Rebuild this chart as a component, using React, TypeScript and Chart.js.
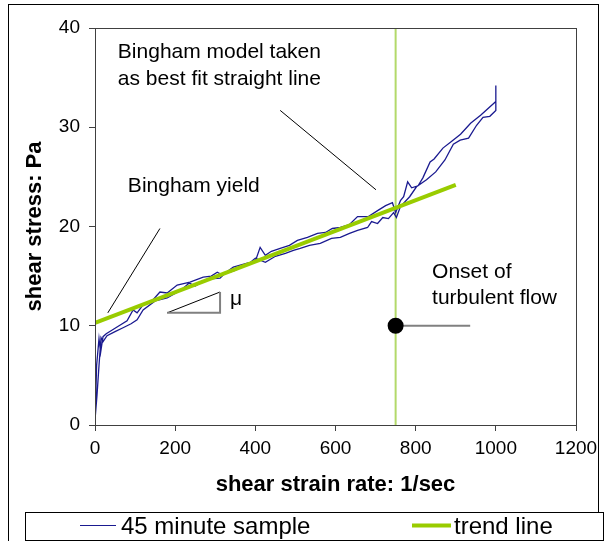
import React, { useEffect, useRef } from "react";
import { Chart, registerables } from "chart.js";

Chart.register(...registerables);

// ---- data ----
const xTickMin = 0;
const xTickMax = 1200;
const xTickStep = 200;
const yTickMin = 0;
const yTickMax = 40;
const yTickStep = 10;

// 45 minute sample: increasing-rate sweep
const rateUp = [0, 4, 10, 14, 20, 28, 40, 60, 80, 95, 105, 120, 140, 162, 180, 205, 237, 270, 290, 305, 318, 345, 380, 400, 412, 425, 440, 462, 485, 505, 530, 555, 575, 592, 612, 635, 655, 682, 705, 725, 742, 750, 762, 770, 780, 790, 806, 818, 836, 846, 868, 890, 912, 937, 962, 1000, 1000];
const stressUp = [0, 6.0, 8.7, 7.3, 8.9, 9.2, 9.5, 10.0, 10.5, 11.6, 11.3, 12.1, 12.4, 13.4, 13.3, 14.1, 14.4, 14.9, 15.0, 15.4, 15.1, 15.9, 16.3, 16.5, 17.9, 17.1, 17.5, 17.8, 18.1, 18.6, 18.9, 19.3, 19.4, 19.8, 19.9, 20.2, 21.0, 21.0, 21.6, 22.1, 22.4, 21.4, 22.6, 23.0, 24.5, 23.9, 24.1, 24.9, 26.5, 26.8, 27.9, 28.6, 29.3, 30.4, 31.2, 32.6, 34.2];

// 45 minute sample: decreasing-rate sweep
const rateDown = [1000, 985, 968, 952, 932, 911, 894, 873, 850, 827, 802, 785, 762, 752, 745, 732, 718, 705, 690, 680, 655, 635, 612, 590, 562, 535, 512, 495, 475, 450, 425, 400, 385, 370, 345, 325, 312, 280, 250, 235, 215, 180, 150, 120, 105, 90, 70, 50, 30, 20, 15, 10, 5, 0];
const stressDown = [31.7, 31.1, 31.0, 30.2, 28.9, 28.7, 28.3, 26.7, 25.5, 24.7, 24.0, 23.0, 22.0, 20.9, 21.4, 20.8, 20.9, 20.3, 20.5, 19.9, 19.6, 19.3, 18.9, 18.8, 18.3, 18.1, 17.8, 17.6, 17.3, 17.0, 16.4, 16.8, 16.3, 16.0, 15.5, 15.3, 14.8, 14.7, 14.0, 14.3, 13.6, 12.8, 12.5, 11.6, 10.6, 10.2, 9.8, 9.4, 9.0, 8.4, 8.8, 6.0, 3.0, 0.5];

// Bingham trend line (best fit straight line)
const trendRate = [0, 900];
const trendStress = [10.3, 24.2];

// onset of turbulent flow
const onsetRate = 750;
const onsetStress = 10;
const onsetLabelEnd = 936;

// annotation texts
const modelLabel = ["Bingham model taken", "as best fit straight line"];
const yieldLabel = "Bingham yield";
const onsetLabel = ["Onset of", "turbulent flow"];
const muLabel = "\u03bc";

const sampleLabel = "45 minute sample";
const trendLabel = "trend line";

// ---- styles ----
const NAVY = "#1a1a90";
const TREND = "#99cc00";
const VLINE = "#b3d96a";
const GRAY = "#808080";
const AXIS = "#404040";
const FONT = '"Liberation Sans", Arial, Helvetica, sans-serif';

const pts = (xs: number[], ys: number[]) => xs.map((x, i) => ({ x, y: ys[i] }));

const decor = {
  id: "decor",
  beforeDraw(chart: any) {
    const { ctx, width, height } = chart;
    ctx.save();
    ctx.fillStyle = "#ffffff";
    ctx.fillRect(0, 0, width, height);
    ctx.restore();
  },
  afterDraw(chart: any) {
    const { ctx, chartArea: a } = chart;
    const xs = chart.scales.x;
    const ys = chart.scales.y;
    const px = (v: number) => xs.getPixelForValue(v);
    const py = (v: number) => ys.getPixelForValue(v);
    ctx.save();
    // plot frame
    ctx.strokeStyle = AXIS;
    ctx.lineWidth = 1;
    ctx.strokeRect(Math.round(a.left) + 0.5, Math.round(a.top) + 0.5, Math.round(a.right - a.left), Math.round(a.bottom - a.top));
    // outer frame
    ctx.strokeStyle = "#000";
    ctx.strokeRect(8.5, 4.5, 590, 560);

    // annotation texts
    ctx.fillStyle = "#000";
    ctx.textBaseline = "middle";
    ctx.textAlign = "left";
    ctx.font = `21px ${FONT}`;
    ctx.fillText(modelLabel[0], px(57), py(37.6));
    ctx.fillText(modelLabel[1], px(57), py(34.8));
    ctx.fillText(yieldLabel, px(82), py(24.1));
    ctx.fillText(onsetLabel[0], px(841), py(15.4));
    ctx.fillText(onsetLabel[1], px(841), py(12.8));
    ctx.fillText(muLabel, px(337), py(12.7));

    // legend
    ctx.fillStyle = "#ffffff";
    ctx.fillRect(25.5, 512.5, 578, 28);
    ctx.strokeStyle = "#000";
    ctx.lineWidth = 1;
    ctx.strokeRect(25.5, 512.5, 578, 28);
    ctx.beginPath();
    ctx.strokeStyle = NAVY;
    ctx.lineWidth = 1.2;
    ctx.moveTo(80, 525.5);
    ctx.lineTo(116, 525.5);
    ctx.stroke();
    ctx.beginPath();
    ctx.strokeStyle = TREND;
    ctx.lineWidth = 4;
    ctx.moveTo(412, 525.5);
    ctx.lineTo(451, 525.5);
    ctx.stroke();
    ctx.fillStyle = "#000";
    ctx.font = `24px ${FONT}`;
    ctx.fillText(sampleLabel, 121, 527);
    ctx.fillText(trendLabel, 454, 527);
    ctx.restore();
  },
};

export default function App() {
  const ref = useRef<HTMLCanvasElement | null>(null);
  useEffect(() => {
    if (!ref.current) return;
    const line = (data: any[], color: string, width: number, order: number, extra: any = {}) => ({
      data,
      borderColor: color,
      backgroundColor: color,
      borderWidth: width,
      pointRadius: 0,
      fill: false,
      tension: 0,
      order,
      ...extra,
    });
    const chart = new Chart(ref.current, {
      type: "line",
      data: {
        datasets: [
          line(pts(trendRate, trendStress), TREND, 4, 1, { label: trendLabel }),
          line([...pts(rateUp, stressUp), ...pts(rateDown, stressDown)], NAVY, 1.3, 2, { label: sampleLabel }),
          line([{ x: onsetRate, y: yTickMin }, { x: onsetRate, y: yTickMax }], VLINE, 2, 3, { label: "onset" }),
          line([{ x: onsetRate, y: onsetStress }, { x: onsetLabelEnd, y: onsetStress }], GRAY, 2, 0, {
            label: "onset marker",
            pointRadius: [7, 0],
            pointBackgroundColor: "#000",
            pointBorderColor: "#000",
          }),
          line([{ x: 462, y: 31.7 }, { x: 701, y: 23.7 }], "#000", 1, 0, { label: "model leader" }),
          line([{ x: 162, y: 19.8 }, { x: 32, y: 11.3 }], "#000", 1, 0, { label: "yield leader" }),
          line([{ x: 180, y: 11.3 }, { x: 312, y: 11.3 }, { x: 312, y: 13.4 }], GRAY, 2, 0, { label: "mu sides" }),
          line([{ x: 180, y: 11.3 }, { x: 312, y: 13.4 }], "#000", 1, 0, { label: "mu slope" }),
        ],
      },
      options: {
        responsive: false,
        animation: false,
        events: [],
        layout: { padding: { left: 18, top: 28, right: 28, bottom: 39 } },
        plugins: { legend: { display: false }, tooltip: { enabled: false }, title: { display: false } },
        scales: {
          x: {
            type: "linear",
            min: xTickMin,
            max: xTickMax,
            afterFit: (s: any) => {
              s.height = 77;
            },
            ticks: {
              stepSize: xTickStep,
              color: "#000",
              font: { family: FONT, size: 19 },
              padding: 6,
              maxRotation: 0,
              callback: (v: any) => String(v),
            },
            grid: { display: true, drawOnChartArea: false, drawTicks: true, tickLength: 6, color: AXIS },
            border: { display: true, color: AXIS, width: 1 },
            title: {
              display: true,
              text: "shear strain rate: 1/sec",
              color: "#000",
              font: { family: FONT, size: 22, weight: "bold" },
              padding: { top: 0, bottom: 4 },
            },
          },
          y: {
            type: "linear",
            min: yTickMin,
            max: yTickMax,
            afterFit: (s: any) => {
              s.width = 77;
            },
            ticks: {
              stepSize: yTickStep,
              color: "#000",
              font: { family: FONT, size: 19 },
              padding: 9,
              callback: (v: any) => String(v),
            },
            grid: { display: true, drawOnChartArea: false, drawTicks: true, tickLength: 6, color: AXIS },
            border: { display: true, color: AXIS, width: 1 },
            title: {
              display: true,
              text: "shear stress: Pa",
              color: "#000",
              font: { family: FONT, size: 22, weight: "bold" },
              padding: { top: 4, bottom: 0 },
            },
          },
        },
      } as any,
      plugins: [decor],
    });
    return () => chart.destroy();
  }, []);
  return (
    <div style={{ position: "absolute", left: 0, top: 0, width: 604, height: 541 }}>
      <canvas ref={ref} width={604} height={541} />
    </div>
  );
}
